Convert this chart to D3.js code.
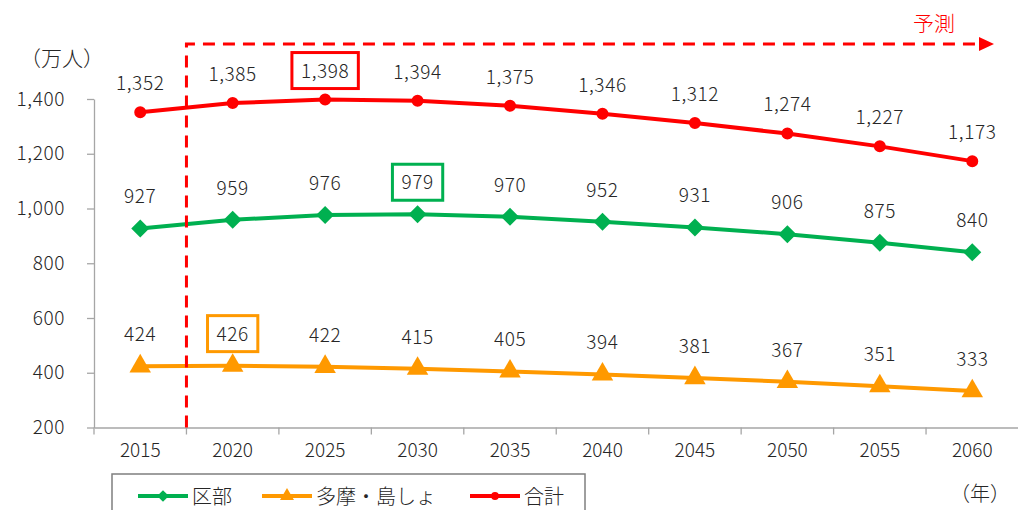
<!DOCTYPE html>
<html lang="ja">
<head>
<meta charset="utf-8">
<title>東京都の人口の推移</title>
<script src="https://cdn.jsdelivr.net/npm/d3@7"></script>
<style>
  body { margin: 0; background: #fff; }
  svg text { font-family: "Noto Sans CJK JP", sans-serif; font-weight: 300; fill: #262626; }
</style>
</head>
<body>
<div id="chart"></div>
<script>
    var years = ["2015", "2020", "2025", "2030", "2035", "2040", "2045", "2050", "2055", "2060"];
    var kubu = [927, 959, 976, 979, 970, 952, 931, 906, 875, 840];
    var tama = [424, 426, 422, 415, 405, 394, 381, 367, 351, 333];
    var total = [1352, 1385, 1398, 1394, 1375, 1346, 1312, 1274, 1227, 1173];
    var yTicks = [200, 400, 600, 800, 1000, 1200, 1400];

    var w = 1018;
    var h = 510;

    // series with their colours, marker and the year whose label gets a box
    var series = [
        {name: "区部", values: kubu, color: "rgb(0,176,80)", marker: "diamond", offset: 25, peak: "2030"},
        {name: "多摩・島しょ", values: tama, color: "rgb(255,153,0)", marker: "triangle", offset: 25, peak: "2020"},
        {name: "合計", values: total, color: "rgb(255,0,0)", marker: "circle", offset: 22, peak: "2025"}
    ];

    var xScale = d3.scaleBand()
        .domain(years)
        .range([94, 1018.5]);

    var yScale = d3.scaleLinear()
        .domain([200, 1400])
        .range([427.5, 99]);

    var svg = d3.select("#chart")
        .append("svg")
        .attr("width", w)
        .attr("height", h);

    // y axis
    var yAxis = d3.axisLeft(yScale)
        .tickValues(yTicks)
        .tickSize(7)
        .tickSizeOuter(0)
        .tickPadding(22)
        .tickFormat(d3.format(","));

    var gy = svg.append("g")
        .attr("transform", "translate(94,0)")
        .call(yAxis);
    gy.selectAll("text").style("font-size", "19px").style("letter-spacing", "0.6px");
    gy.selectAll("path, line").attr("stroke", "#a6a6a6").attr("stroke-width", 1.3);

    // x axis, ticks go between categories like in excel
    var xAxis = d3.axisBottom(xScale)
        .tickSize(0)
        .tickPadding(16);

    var gx = svg.append("g")
        .attr("transform", "translate(0,427.5)")
        .call(xAxis);
    gx.selectAll("text").style("font-size", "19px");
    gx.select(".domain").attr("stroke", "#a6a6a6").attr("stroke-width", 1.3);

    gx.selectAll(".sep")
        .data(years)
        .enter()
        .append("line")
        .attr("x1", function (d) { return xScale(d); })
        .attr("x2", function (d) { return xScale(d); })
        .attr("y1", 0)
        .attr("y2", 7)
        .attr("stroke", "#a6a6a6")
        .attr("stroke-width", 1.3);

    // unit labels
    svg.append("text")
        .attr("x", 20)
        .attr("y", 57)
        .attr("dominant-baseline", "central")
        .style("font-size", "21px")
        .text("（万人）");

    svg.append("text")
        .attr("x", 1010)
        .attr("y", 492)
        .attr("text-anchor", "end")
        .attr("dominant-baseline", "central")
        .style("font-size", "20px")
        .text("（年）");

    var line = d3.line()
        .x(function (d, i) { return xScale(years[i]) + xScale.bandwidth() / 2; })
        .y(function (d) { return yScale(d); });

    function markerPath(type, scale) {
        if (type === "circle") return d3.symbol(d3.symbolCircle, 113 * scale * scale)();
        if (type === "diamond") return d3.symbol(d3.symbolSquare, 162 * scale * scale)();
        return d3.symbol(d3.symbolTriangle, 200 * scale * scale)();
    }

    series.forEach(function (s) {
        var g = svg.append("g");
        var cx = function (i) { return xScale(years[i]) + xScale.bandwidth() / 2; };

        g.append("path")
            .datum(s.values)
            .attr("d", line)
            .attr("fill", "none")
            .attr("stroke", s.color)
            .attr("stroke-width", 4)
            .attr("stroke-linejoin", "round");

        g.selectAll(".mark")
            .data(s.values)
            .enter()
            .append("path")
            .attr("d", markerPath(s.marker, 1))
            .attr("transform", function (d, i) {
                return "translate(" + cx(i) + "," + yScale(d) + ")" + (s.marker === "diamond" ? " rotate(45)" : "");
            })
            .attr("fill", s.color);

        var labels = g.selectAll(".lbl")
            .data(s.values)
            .enter()
            .append("text")
            .attr("x", function (d, i) { return cx(i); })
            .attr("y", function (d) { return yScale(d) - s.offset; })
            .attr("text-anchor", "middle")
            .style("font-size", "19px")
            .style("letter-spacing", "0.6px")
            .text(function (d) { return d3.format(",")(d); });

        // box round the highest value
        labels.each(function (d, i) {
            if (years[i] !== s.peak) return;
            var bb = this.getBBox();
            var cy = yScale(d) - s.offset - 7;
            g.append("rect")
                .attr("x", cx(i) - (bb.width + 18) / 2)
                .attr("y", cy - 18)
                .attr("width", bb.width + 18)
                .attr("height", 36)
                .attr("fill", "none")
                .attr("stroke", s.color)
                .attr("stroke-width", 3);
        });
    });

    // forecast marker: dashed frame with arrow
    var xSplit = xScale("2020");
    var topY = 44;
    svg.append("path")
        .attr("d", "M" + xSplit + "," + yScale(200) + "V" + topY + "H980")
        .attr("fill", "none")
        .attr("stroke", "rgb(255,0,0)")
        .attr("stroke-width", 3)
        .attr("stroke-dasharray", "12,8");

    svg.append("path")
        .attr("d", "M979," + (topY - 7) + "L994," + topY + "L979," + (topY + 7) + "Z")
        .attr("fill", "rgb(255,0,0)");

    svg.append("text")
        .attr("x", 934)
        .attr("y", 22)
        .attr("text-anchor", "middle")
        .attr("dominant-baseline", "central")
        .style("font-size", "21px")
        .style("fill", "rgb(255,0,0)")
        .text("予測");

    // legend
    var legend = svg.append("g");
    legend.append("rect")
        .attr("x", 112)
        .attr("y", 474)
        .attr("width", 473)
        .attr("height", 50)
        .attr("fill", "none")
        .attr("stroke", "#7f7f7f")
        .attr("stroke-width", 1.5);

    var legendX = [138, 262, 470];
    series.forEach(function (s, i) {
        var x0 = legendX[i];
        var ly = 496;
        legend.append("line")
            .attr("x1", x0)
            .attr("x2", x0 + 50)
            .attr("y1", ly)
            .attr("y2", ly)
            .attr("stroke", s.color)
            .attr("stroke-width", 4);
        legend.append("path")
            .attr("d", markerPath(s.marker, 0.65))
            .attr("transform", "translate(" + (x0 + 25) + "," + ly + ")" + (s.marker === "diamond" ? " rotate(45)" : ""))
            .attr("fill", s.color);
        legend.append("text")
            .attr("x", x0 + 54)
            .attr("y", 495)
            .attr("dominant-baseline", "central")
            .style("font-size", "20px")
            .text(s.name);
    });
</script>
</body>
</html>
